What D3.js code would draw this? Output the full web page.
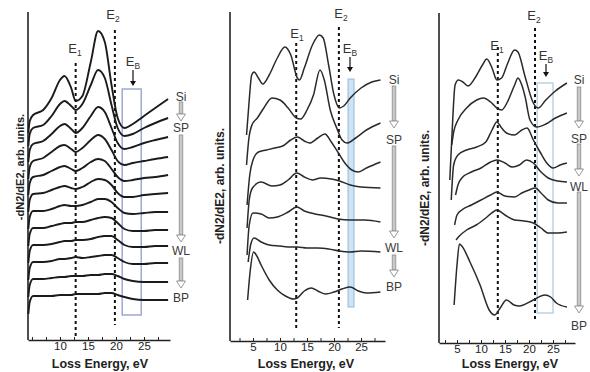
<!DOCTYPE html>
<html>
<head>
<meta charset="utf-8">
<script src="https://cdn.jsdelivr.net/npm/d3@7"></script>
<style>
  body { margin: 0; background: #fff; }
  svg { display: block; }
  text { font-family: "Liberation Sans", Arial, sans-serif; fill: #222; }
</style>
</head>
<body>
<svg id="chart" width="590" height="372"></svg>
<script>
// ---------- data (loss energy in eV, intensity in arb. units) ----------

// panel A: 12 spectra on a shared energy grid, Si (top) -> BP (bottom)
const gridA = [4.35, 4.6, 5.2, 7, 8.5, 10, 10.8, 12, 12.8, 14, 15.5, 16.8, 18, 19.2, 20.3, 21.5, 23, 25, 27, 29.3];
const spectraA = [
  [207, 219, 225, 230, 242, 260, 264, 252, 239, 244, 278, 309, 298, 255, 222, 212, 216, 224, 232, 241],
  [194, 206, 212, 215, 224, 236, 239, 234, 230, 236, 255, 270, 262, 235, 212, 204, 206, 212, 217, 222],
  [178, 190, 196, 199, 206, 214, 216, 211, 207, 212, 224, 233, 228, 212, 197, 191, 193, 197, 200, 203],
  [161, 173, 179, 182, 188, 194, 195, 191, 188, 192, 200, 205, 201, 190, 179, 175, 177, 179, 181, 183],
  [145, 157, 163, 165, 169, 173, 174, 171, 169, 172, 178, 181, 179, 171, 163, 159, 160, 162, 163, 165],
  [128, 140, 146, 147, 150, 153, 154, 152, 151, 153, 158, 161, 160, 155, 147, 143, 143, 145, 146, 147],
  [111, 123, 129, 129, 131, 134, 135, 134, 134, 135, 138, 141, 141, 138, 132, 127, 126, 127, 128, 128],
  [94, 106, 112, 112, 114, 116, 117, 117, 118, 118, 120, 122, 123, 122, 117, 111, 109, 109, 110, 110],
  [77, 89, 95, 95, 96, 98, 99, 99, 100, 100, 101, 103, 104, 104, 100, 95, 93, 93, 94, 94],
  [60, 72, 78, 78, 79, 81, 81, 82, 83, 82, 83, 84, 85, 85, 82, 78, 76, 76, 77, 77],
  [43, 55, 61, 61, 62, 63, 63, 64, 64, 64, 65, 65, 66, 66, 64, 61, 59, 58, 58, 58],
  [26, 38, 44, 44, 44, 45, 45, 45, 46, 46, 46, 46, 47, 47, 45, 43, 41, 40, 40, 40]
];

// panel B: 7 spectra, [energy, intensity]
const spectraB = [
  [[3.8,206],[4.3,241],[4.75,266],[5.2,269],[6,263],[6.8,257],[8,266],[9.5,283],[10.9,294],[12,286],[13.2,263],[13.6,261],[14.5,273],[16,296],[17.3,306],[18,303],[19,276],[20,246],[21,233],[21.8,235],[23,243],[25,253],[27,259],[28.6,261]],
  [[3.8,176],[4.2,201],[4.8,216],[5.8,223],[7,233],[8.5,243],[10,241],[11.5,233],[13,223],[13.8,222],[15,231],[16.2,246],[17.4,271],[18.2,261],[19.3,231],[20.5,213],[21.5,201],[22.4,198],[24,203],[26,211],[28.6,218]],
  [[3.9,136],[4.4,166],[5,181],[6,189],[7.5,191],[9,193],[10.5,195],[12,201],[13.2,204],[14.5,200],[15.5,198],[17,203],[18.3,207],[19.5,199],[20.7,189],[22,178],[23.3,171],[24.5,169],[26,173],[28.6,179]],
  [[3.9,113],[4.3,141],[4.9,153],[6.5,159],[8.5,155],[10,156],[11.5,161],[13.1,168],[14.5,164],[16,161],[17.5,163],[19.5,162],[21,160],[23,156],[25,154],[28.6,153]],
  [[3.9,86],[4.3,116],[5,128],[6.5,127],[8,123],[9.5,124],[11.5,129],[13.1,134],[14.5,130],[16.5,127],[18.5,125],[20.7,122],[23,121],[25.7,121],[28.6,119]],
  [[4.1,79],[4.6,97],[5.2,103],[6.5,99],[8,96],[10,95],[12,94],[13.2,94],[15,93],[17,93],[19,92],[21,90],[23,89],[25,90],[28.6,89]],
  [[4.0,41],[4.5,71],[5.1,89],[5.6,86],[6.5,76],[8,61],[9.5,51],[11,45],[12.5,42],[13.2,43],[14.5,50],[15.8,53],[17,50],[18.5,47],[20,49],[21.5,52],[23,54],[24.5,50],[26,48],[28.6,49]]
];

// panel C: 7 spectra, [energy, intensity]
const spectraC = [
  [[3.5,163],[4.0,213],[4.6,258],[5.3,263],[6.2,261],[7.3,257],[9,267],[10.3,278],[11.2,284],[12.3,275],[13.3,263],[14.3,265],[15.5,279],[17,293],[17.7,291],[19.2,266],[20.9,240],[21.9,235],[23.5,243],[25.5,252],[27.9,260]],
  [[3.9,198],[4.3,211],[5.2,223],[7,235],[9.1,243],[10.5,245],[12,241],[13.3,235],[14.3,233],[15.5,241],[17,258],[17.7,265],[18.5,258],[19.2,246],[20.2,223],[21.6,216],[23.5,219],[25.5,225],[27.9,230]],
  [[3.8,143],[4.3,178],[5.2,188],[7,193],[9.1,196],[11,201],[12.3,213],[13.3,221],[14.3,215],[15.3,210],[17,208],[18.5,213],[19.6,215],[20.9,203],[22.3,191],[23.7,180],[25,175],[26.5,178],[27.9,180]],
  [[4.7,148],[5.2,158],[6,165],[8,171],[10,175],[12,181],[13.3,183],[15,180],[16.5,176],[18,178],[19.5,183],[20.9,180],[22.5,171],[24,165],[26,162],[27.9,161]],
  [[4.5,118],[5,128],[6,133],[8,138],[10,143],[12,148],[13.3,151],[15,147],[17,146],[18.5,150],[20,153],[21.3,155],[22.5,150],[24,143],[26,140],[27.9,140]],
  [[4.8,103],[5.5,107],[7,113],[9,118],[11,125],[12.5,131],[13.3,133],[15,128],[17,123],[19,122],[20.9,120],[22.5,115],[24,110],[26,110],[27.9,111]],
  [[4.4,38],[5.0,78],[5.5,99],[6.0,97],[7.7,81],[9.8,58],[11.7,33],[12.8,28],[14,35],[15.3,43],[16.9,38],[18,37],[20.9,43],[23.3,48],[24.5,46],[25.7,40],[27.9,36]]
];

const tickLabels = [5, 10, 15, 20, 25];
const minorTicks = [2.5, 5, 7.5, 10, 12.5, 15, 17.5, 20, 22.5, 25, 27.5];
const e1Energy = [12.8, 13.0, 13.5];
const e2Energy = [19.8, 20.9, 21.25];
const ebRange = [[21.1, 24.5], [22.6, 23.7], [21.7, 25.0]];
const stageLabels = ['Si', 'SP', 'WL', 'BP'];

// ---------- layout ----------
const panels = [
  {
    curves: spectraA.map(v => gridA.map((e, i) => [e, v[i]])),
    xr: [28, 170], dom: [4.29, 29.64], top: 12, bottom: 340, lw: 1.9, color: '#1b1b1b',
    yTitle: {x: 20, y: 167, size: 11},
    e1: [63, 337], e2: [30, 325], e1Lab: [75, 53], e2Lab: [113, 19], ebLab: [133, 66], ebArrow: [70, 86],
    box: [89, 315], boxStyle: {fill: 'none', stroke: '#8e9ccc', width: 1.3},
    stageX: 181, stageY: [97, 128, 251, 298], arrows: [[102, 121], [135, 242], [258, 288]],
    xTitle: 100, ticks: [10, 15, 20, 25]
  },
  {
    curves: spectraB,
    xr: [230, 385], dom: [0.74, 29.44], top: 12, bottom: 341, lw: 1.5, color: '#2a2a2a',
    yTitle: {x: 220, y: 186, size: 12},
    e1: [43, 330], e2: [27, 328], e1Lab: [297, 38], e2Lab: [341, 18], ebLab: [350, 53], ebArrow: [57, 72],
    box: [79, 307], boxStyle: {fill: '#cfe3f3', stroke: '#8fbadf', width: 1},
    stageX: 394, stageY: [80, 140, 248, 287], arrows: [[86, 128], [146, 238], [255, 277]],
    xTitle: 306, ticks: tickLabels
  },
  {
    curves: spectraC,
    xr: [439, 575], dom: [1.25, 29.58], top: 13, bottom: 343, lw: 1.5, color: '#2a2a2a',
    yTitle: {x: 425, y: 188, size: 12},
    e1: [47, 323], e2: [28, 320], e1Lab: [497, 50], e2Lab: [534, 20], ebLab: [546, 60], ebArrow: [64, 77],
    box: [83, 313], boxStyle: {fill: 'none', stroke: '#a9c6de', width: 1.2},
    stageX: 579, stageY: [80, 139, 187, 326], arrows: [[87, 128], [144, 176], [192, 313]],
    xTitle: 510, ticks: tickLabels
  }
];

const svg = d3.select('#chart');

function subLabel(g, x, y, sub, size) {
  const t = g.append('text').attr('x', x).attr('y', y)
    .attr('text-anchor', 'middle').style('font-size', size + 'px').style('fill', '#333');
  t.append('tspan').text('E');
  t.append('tspan').attr('dy', 3).style('font-size', (size * 0.65) + 'px').text(sub);
}

function hollowArrow(g, x, y0, y1) {
  const head = 7;
  g.append('rect').attr('x', x - 1.8).attr('y', y0).attr('width', 3.6).attr('height', y1 - y0 - head)
    .attr('fill', '#c9c9c9').attr('stroke', '#8d8d8d').attr('stroke-width', 0.8);
  g.append('path')
    .attr('d', `M${x - 4.5},${y1 - head}L${x + 4.5},${y1 - head}L${x},${y1}Z`)
    .attr('fill', '#fff').attr('stroke', '#8d8d8d').attr('stroke-width', 0.9);
}

panels.forEach((p, pi) => {
  const g = svg.append('g');
  const x = d3.scaleLinear().domain(p.dom).range(p.xr);
  const y = d3.scaleLinear().domain([0, 330]).range([p.bottom, p.bottom - 330]);

  // EB box
  g.append('rect')
    .attr('x', x(ebRange[pi][0])).attr('y', p.box[0])
    .attr('width', x(ebRange[pi][1]) - x(ebRange[pi][0])).attr('height', p.box[1] - p.box[0])
    .attr('fill', p.boxStyle.fill).attr('stroke', p.boxStyle.stroke).attr('stroke-width', p.boxStyle.width);

  // axes
  g.append('line').attr('x1', p.xr[0]).attr('x2', p.xr[0]).attr('y1', p.top).attr('y2', p.bottom)
    .attr('stroke', '#222').attr('stroke-width', 1.6);

  const axis = g.append('g').attr('transform', `translate(0,${p.bottom})`)
    .call(d3.axisBottom(x).tickValues(p.ticks).tickSizeInner(-3).tickSizeOuter(0).tickPadding(2));
  axis.select('.domain').attr('stroke', '#222').attr('stroke-width', 1.6);
  axis.selectAll('text').style('font-size', '11.5px').style('fill', '#222');
  axis.selectAll('.tick line').attr('stroke', '#222');
  g.append('g').attr('transform', `translate(0,${p.bottom})`)
    .call(d3.axisBottom(x).tickValues(minorTicks.filter(t => t > p.dom[0] && t < p.dom[1]))
      .tickSizeInner(-3).tickSizeOuter(0).tickFormat(''))
    .call(a => a.select('.domain').remove())
    .selectAll('line').attr('stroke', '#222');

  g.append('text').attr('x', p.xTitle).attr('y', 368).attr('text-anchor', 'middle')
    .style('font-size', '12.5px').style('font-weight', 'bold').text('Loss Energy, eV');

  g.append('text')
    .attr('transform', `translate(${p.yTitle.x},${p.yTitle.y}) rotate(-90)`)
    .attr('text-anchor', 'middle').attr('dy', '0.35em')
    .style('font-size', p.yTitle.size + 'px').style('font-weight', 'bold')
    .text('-dN2/dE2, arb. units.');

  // E1 / E2 dashed markers
  [[e1Energy[pi], p.e1], [e2Energy[pi], p.e2]].forEach(([e, ys]) => {
    g.append('line').attr('x1', x(e)).attr('x2', x(e)).attr('y1', ys[0]).attr('y2', ys[1])
      .attr('stroke', '#111').attr('stroke-width', 2).attr('stroke-dasharray', '3,3');
  });
  subLabel(g, p.e1Lab[0], p.e1Lab[1], '1', 13);
  subLabel(g, p.e2Lab[0], p.e2Lab[1], '2', 13);
  subLabel(g, p.ebLab[0], p.ebLab[1], 'B', 13);
  g.append('line').attr('x1', p.ebLab[0]).attr('x2', p.ebLab[0])
    .attr('y1', p.ebArrow[0]).attr('y2', p.ebArrow[1] - 4)
    .attr('stroke', '#111').attr('stroke-width', 1.2);
  g.append('path')
    .attr('d', `M${p.ebLab[0] - 3},${p.ebArrow[1] - 5}L${p.ebLab[0] + 3},${p.ebArrow[1] - 5}L${p.ebLab[0]},${p.ebArrow[1]}Z`)
    .attr('fill', '#111');

  // spectra
  const line = d3.line().x(d => x(d[0])).y(d => y(d[1])).curve(d3.curveMonotoneX);
  g.append('g').selectAll('path').data(p.curves).join('path')
    .attr('d', line).attr('fill', 'none')
    .attr('stroke', p.color).attr('stroke-width', p.lw).attr('stroke-linejoin', 'round');

  // stage labels and arrows
  stageLabels.forEach((s, i) => {
    g.append('text').attr('x', p.stageX).attr('y', p.stageY[i]).attr('dy', '0.35em')
      .attr('text-anchor', 'middle').style('font-size', '12px').style('fill', '#3a3a3a').text(s);
  });
  p.arrows.forEach(a => hollowArrow(g, p.stageX, a[0], a[1]));
});
</script>
</body>
</html>
